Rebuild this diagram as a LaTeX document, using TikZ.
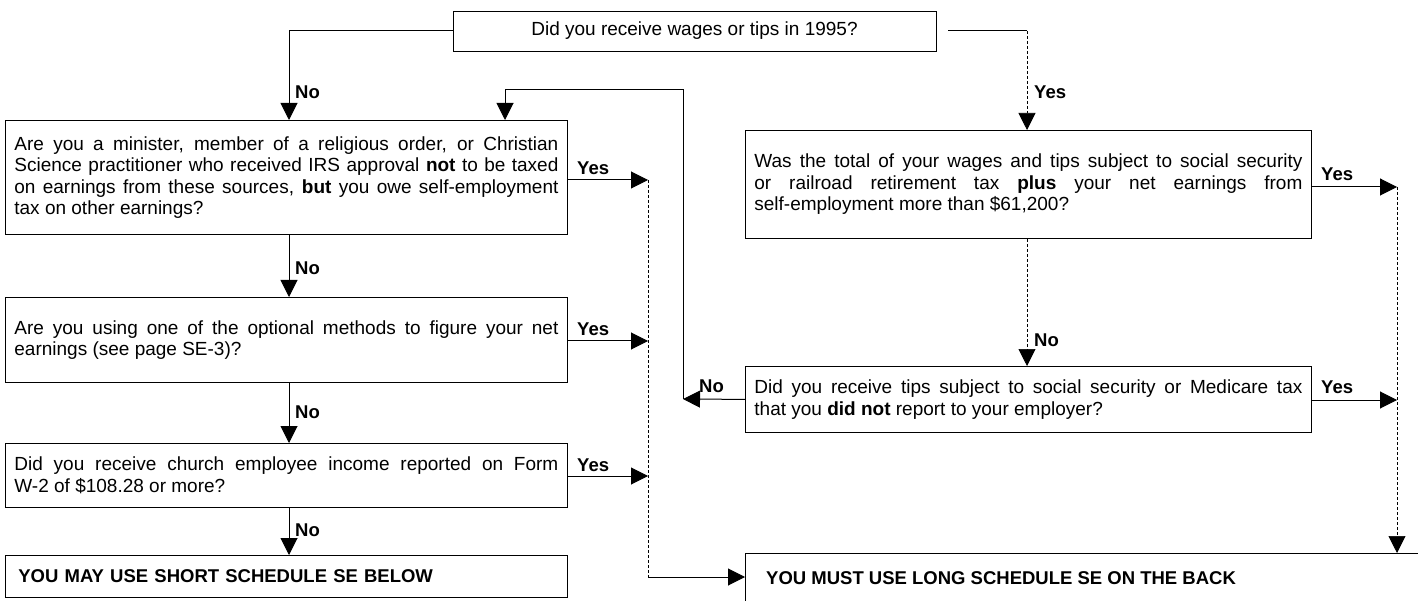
\documentclass[tikz,border=0pt]{standalone}
\usepackage{fontspec}
\setmainfont{Liberation Sans}
\usetikzlibrary{arrows.meta}
\begin{document}
\begin{tikzpicture}[x=1pt,y=-1pt,
  box/.style={draw, line width=0.8pt, inner xsep=9pt, inner ysep=0pt, anchor=north west,
    font=\fontsize{19}{21.5}\selectfont, align=justify},
  tbox/.style={draw, line width=0.8pt, inner sep=0pt, font=\fontsize{19}{21.5}\selectfont, align=center},
  lbl/.style={font=\bfseries\fontsize{18.5}{20}\selectfont, anchor=west, inner sep=0pt},
  big/.style={font=\bfseries\fontsize{18.5}{21}\selectfont, anchor=west, inner sep=0pt},
  tip/.style={-{Triangle[length=17pt,width=17pt]}},
  arr/.style={line width=1pt, tip},
  ln/.style={line width=1pt},
  dl/.style={line width=0.7pt, densely dashed}]
\useasboundingbox (0,0) rectangle (1418,601);

% boxes
\node[tbox, minimum width=483pt, minimum height=40pt] (T) at (694.5,31) {Did you receive wages or tips in 1995?};
\node[box, text width=544pt, minimum height=114pt] (B1) at (5,120)
  {Are you a minister, member of a religious order, or Christian\linebreak Science practitioner who received IRS approval \textbf{not} to be taxed\linebreak on earnings from these sources, \textbf{but} you owe self-employment\linebreak tax on other earnings?};
\node[box, text width=544pt, minimum height=85pt] (B2) at (5,297)
  {Are you using one of the optional methods to figure your net\linebreak earnings (see page SE-3)?};
\node[box, text width=544pt, minimum height=64pt] (B3) at (5,443)
  {Did you receive church employee income reported on Form\linebreak W-2 of \$108.28 or more?};
\node[box, text width=536pt, inner xsep=13pt, minimum height=42pt, align=left,
  font=\bfseries\fontsize{18.5}{21}\selectfont] (S) at (5,555) {YOU MAY USE SHORT SCHEDULE SE BELOW};
\node[box, text width=548pt, minimum height=108pt] (W) at (745,130)
  {Was the total of your wages and tips subject to social security\linebreak or railroad retirement tax \textbf{plus} your net earnings from\linebreak self-employment more than \$61,200?};
\node[box, text width=548pt, minimum height=66pt] (P) at (745,366)
  {Did you receive tips subject to social security or Medicare tax\linebreak that you \textbf{did not} report to your employer?};
\node[anchor=north west, inner sep=0pt, minimum width=673pt, minimum height=48pt] (L) at (745,553) {};
\draw[line width=0.8pt] (L.south west) -- (L.north west) -- (L.north east);
\node[big] (Lt) at (766,578) {YOU MUST USE LONG SCHEDULE SE ON THE BACK};

% coordinates
\coordinate (c1) at (1027,31);
\coordinate (lp) at (683,399);
\coordinate (lt) at (683,90);
\coordinate (y1) at (648,180);
\coordinate (y2) at (648,341);
\coordinate (y3) at (648,476);
\coordinate (y4) at (648,577);
\coordinate (r1) at (1397,187);
\coordinate (r2) at (1397,400);

% left column
\draw[arr] (T.west) -| ([xshift=284pt]B1.north west);
\draw[arr] ([xshift=284pt]B1.south west) -- ([xshift=284pt]B2.north west);
\draw[arr] ([xshift=284pt]B2.south west) -- ([xshift=284pt]B3.north west);
\draw[arr] ([xshift=284pt]B3.south west) -- ([xshift=284pt]S.north west);
\node[lbl] (n1) at (295,92) {No};
\node[lbl] (n2) at (295,268) {No};
\node[lbl] (n3) at (295,412) {No};
\node[lbl] (n4) at (295,530) {No};

% yes arrows from left boxes
\draw[arr] (B1.east |- y1) -- (y1);
\draw[arr] (B2.east |- y2) -- (y2);
\draw[arr] (B3.east |- y3) -- (y3);
\node[lbl] (l1) at (577,168) {Yes};
\node[lbl] (l2) at (577,329) {Yes};
\node[lbl] (l3) at (577,465) {Yes};
\draw[dl] (y1) -- (y4);
\draw[arr] (y4) -- (L.west |- y4);

% right column
\draw[ln] ([xshift=12pt]T.east) -- (c1);
\draw[dl, tip] (c1) -- (W.north -| c1);
\node[lbl] (l4) at (1034,92) {Yes};
\draw[dl, tip] (W.south -| c1) -- (P.north -| c1);
\node[lbl] (n5) at (1034,340) {No};
\draw[arr] (W.east |- r1) -- (r1);
\draw[arr] (P.east |- r2) -- (r2);
\node[lbl] (l5) at (1321,174) {Yes};
\node[lbl] (l6) at (1321,387) {Yes};
\draw[dl, tip] (r1) -- (L.north -| r1);

% loop back
\draw[arr] (P.west) -- (lp);
\node[lbl] (n6) at (699,386) {No};
\draw[arr] (lp) -- (lt) -| ([xshift=500pt]B1.north west);
\end{tikzpicture}
\end{document}
